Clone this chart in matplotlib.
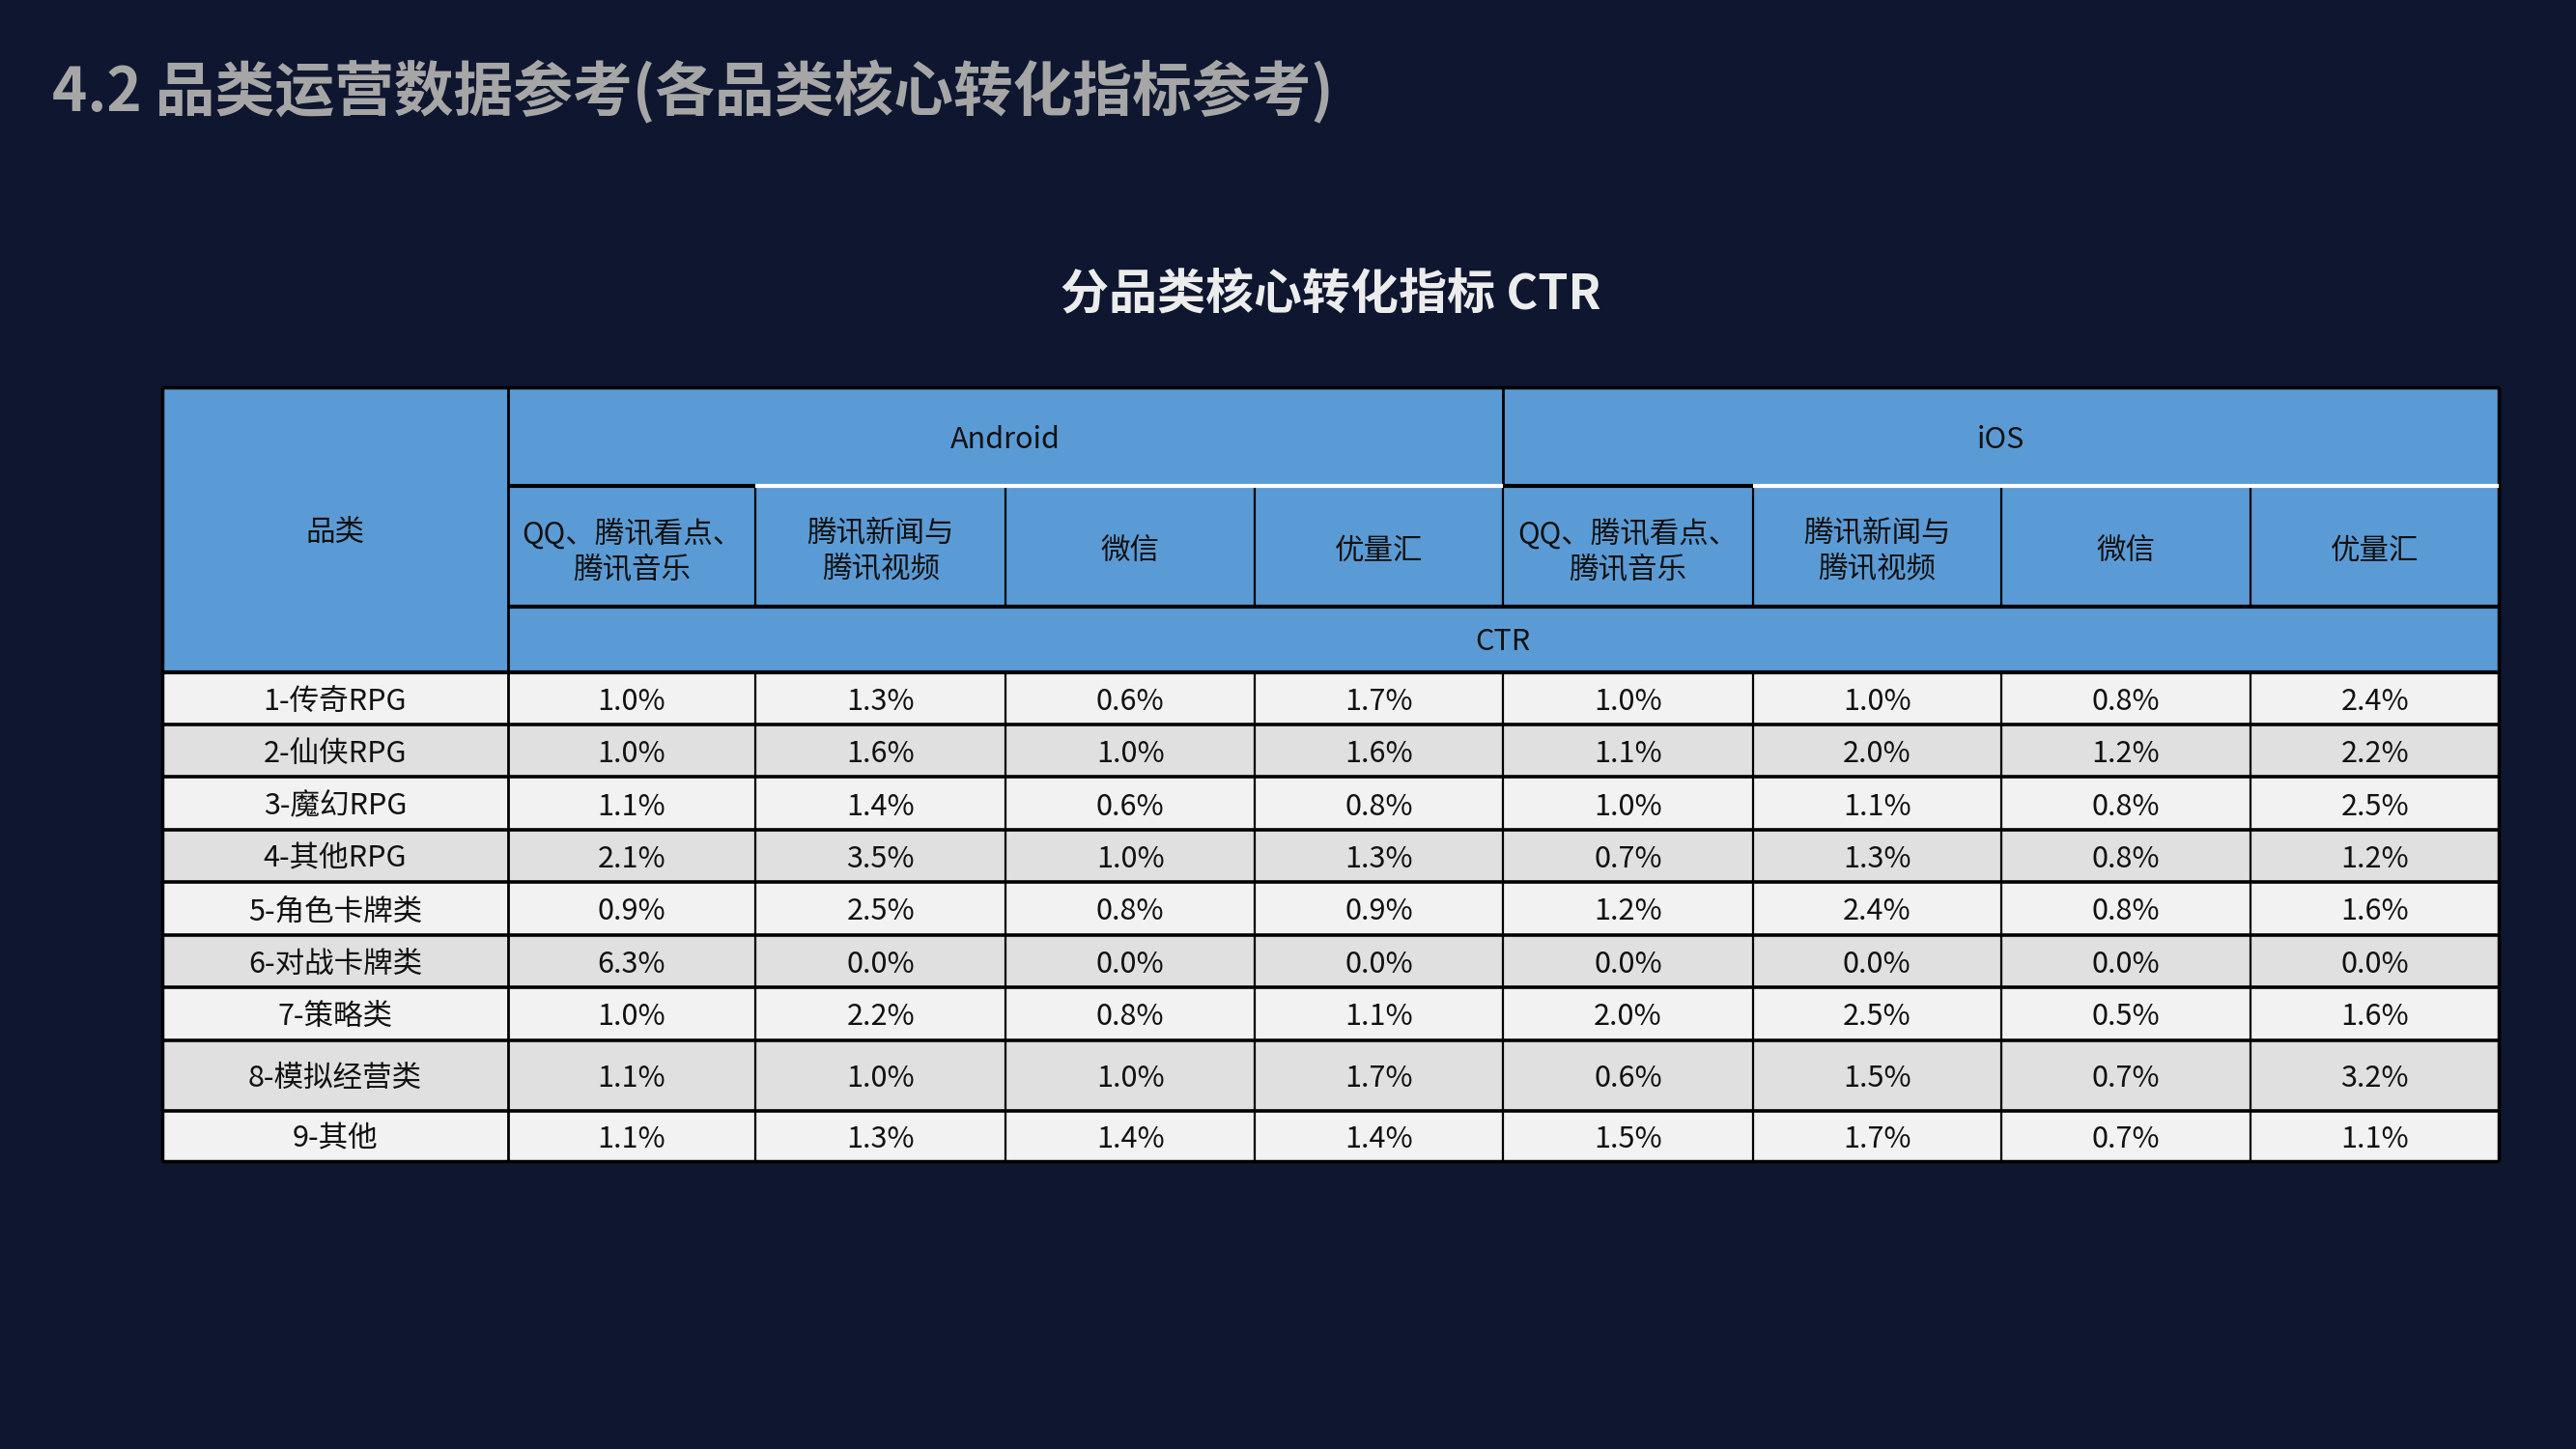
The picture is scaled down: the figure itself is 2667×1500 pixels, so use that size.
import matplotlib
matplotlib.use("Agg")
import matplotlib.pyplot as plt
from matplotlib.patches import Rectangle

plt.rcParams['font.family'] = ['Noto Sans CJK SC', 'DejaVu Sans']

title = "4.2 品类运营数据参考(各品类核心转化指标参考)"
subtitle = "分品类核心转化指标 CTR"

platforms = ["Android", "iOS"]
channels = ["QQ、腾讯看点、\n腾讯音乐", "腾讯新闻与\n腾讯视频", "微信", "优量汇"]
categories = ["1-传奇RPG", "2-仙侠RPG", "3-魔幻RPG", "4-其他RPG", "5-角色卡牌类",
              "6-对战卡牌类", "7-策略类", "8-模拟经营类", "9-其他"]

android_ctr = [
    [1.0, 1.3, 0.6, 1.7],
    [1.0, 1.6, 1.0, 1.6],
    [1.1, 1.4, 0.6, 0.8],
    [2.1, 3.5, 1.0, 1.3],
    [0.9, 2.5, 0.8, 0.9],
    [6.3, 0.0, 0.0, 0.0],
    [1.0, 2.2, 0.8, 1.1],
    [1.1, 1.0, 1.0, 1.7],
    [1.1, 1.3, 1.4, 1.4],
]
ios_ctr = [
    [1.0, 1.0, 0.8, 2.4],
    [1.1, 2.0, 1.2, 2.2],
    [1.0, 1.1, 0.8, 2.5],
    [0.7, 1.3, 0.8, 1.2],
    [1.2, 2.4, 0.8, 1.6],
    [0.0, 0.0, 0.0, 0.0],
    [2.0, 2.5, 0.5, 1.6],
    [0.6, 1.5, 0.7, 3.2],
    [1.5, 1.7, 0.7, 1.1],
]

# layout (in 1568x882 page units)
W, H = 1568, 882
bg = "#0e1630"
blue = "#5b9bd5"
fills = ["#f2f2f2", "#e0e0e0"]
col_x = [99, 309, 460, 612, 764, 915, 1067, 1218, 1370, 1521]
hdr_y = [236, 296, 369, 409]
row_h = [32, 32, 32, 32, 32, 32, 32, 43, 31]
fs = 22
dy = 2  # small downward nudge so glyphs sit centred like the reference

fig = plt.figure(figsize=(26.67, 15), dpi=100, facecolor=bg)
ax = fig.add_axes([0, 0, 1, 1])
ax.set_xlim(0, W)
ax.set_ylim(H, 0)
ax.axis("off")
ax.set_facecolor(bg)

ax.text(32, 56, title, fontsize=44.5, fontweight="bold", color="#a6a6a6",
        ha="left", va="center")
ax.text(810, 180, subtitle, fontsize=36, fontweight="bold", color="#ececec",
        ha="center", va="center")

x0, x1 = col_x[0], col_x[-1]
# header background
ax.add_patch(Rectangle((x0, hdr_y[0]), x1 - x0, hdr_y[-1] - hdr_y[0],
                       facecolor=blue, edgecolor="none"))

# data rows
row_y = [hdr_y[-1]]
for h in row_h:
    row_y.append(row_y[-1] + h)
for i, cat in enumerate(categories):
    ya, yb = row_y[i], row_y[i + 1]
    ax.add_patch(Rectangle((x0, ya), x1 - x0, yb - ya,
                           facecolor=fills[i % 2], edgecolor="none"))
    yc = (ya + yb) / 2 + dy
    ax.text((col_x[0] + col_x[1]) / 2, yc, cat, fontsize=fs, color="#111111",
            ha="center", va="center")
    vals = android_ctr[i] + ios_ctr[i]
    for j, v in enumerate(vals):
        ax.text((col_x[j + 1] + col_x[j + 2]) / 2, yc, f"{v:.1f}%", fontsize=fs,
                color="#111111", ha="center", va="center")

# header texts
ax.text((col_x[0] + col_x[1]) / 2, 324, "品类",
        fontsize=fs, color="#111111", ha="center", va="center")
for p, name in enumerate(platforms):
    xa, xb = col_x[1 + 4 * p], col_x[5 + 4 * p]
    ax.text((xa + xb) / 2, (hdr_y[0] + hdr_y[1]) / 2 + dy, name, fontsize=fs,
            color="#111111", ha="center", va="center")
    for k, ch in enumerate(channels):
        ca, cb = col_x[1 + 4 * p + k], col_x[2 + 4 * p + k]
        ax.text((ca + cb) / 2, (hdr_y[1] + hdr_y[2]) / 2 + dy + 1, ch, fontsize=fs,
                color="#111111", ha="center", va="center", linespacing=1.2)
ax.text((col_x[1] + col_x[-1]) / 2, (hdr_y[2] + hdr_y[3]) / 2 + dy, "CTR",
        fontsize=fs, color="#111111", ha="center", va="center")

# grid lines
lk = dict(color="black", solid_capstyle="butt")
ytop, ybot = hdr_y[0], row_y[-1]
# vertical
ax.plot([col_x[0]] * 2, [ytop, ybot], lw=2.5, **lk)
ax.plot([col_x[-1]] * 2, [ytop, ybot], lw=2.5, **lk)
ax.plot([col_x[1]] * 2, [ytop, ybot], lw=2.0, **lk)
ax.plot([col_x[5]] * 2, [ytop, hdr_y[1]], lw=2.0, **lk)
for j in range(2, 9):
    ax.plot([col_x[j]] * 2, [hdr_y[1], hdr_y[2]], lw=1.6, **lk)
    ax.plot([col_x[j]] * 2, [hdr_y[3], ybot], lw=1.6, **lk)
# horizontal
ax.plot([col_x[0], col_x[-1]], [ytop] * 2, lw=2.5, **lk)
ax.plot([col_x[0], col_x[-1]], [ybot] * 2, lw=2.5, **lk)
ax.plot([col_x[1], col_x[-1]], [hdr_y[2]] * 2, lw=3.0, **lk)
ax.plot([col_x[0], col_x[-1]], [hdr_y[3]] * 2, lw=3.0, **lk)
for p in range(2):
    ax.plot([col_x[1 + 4 * p], col_x[2 + 4 * p]], [hdr_y[1]] * 2, lw=3.0, **lk)
    ax.plot([col_x[2 + 4 * p], col_x[5 + 4 * p]], [hdr_y[1]] * 2, lw=3.0,
            color="white", solid_capstyle="butt")
for y in row_y[1:-1]:
    ax.plot([col_x[0], col_x[-1]], [y] * 2, lw=2.6, **lk)

fig.savefig("out.png", dpi=100, facecolor=bg)
